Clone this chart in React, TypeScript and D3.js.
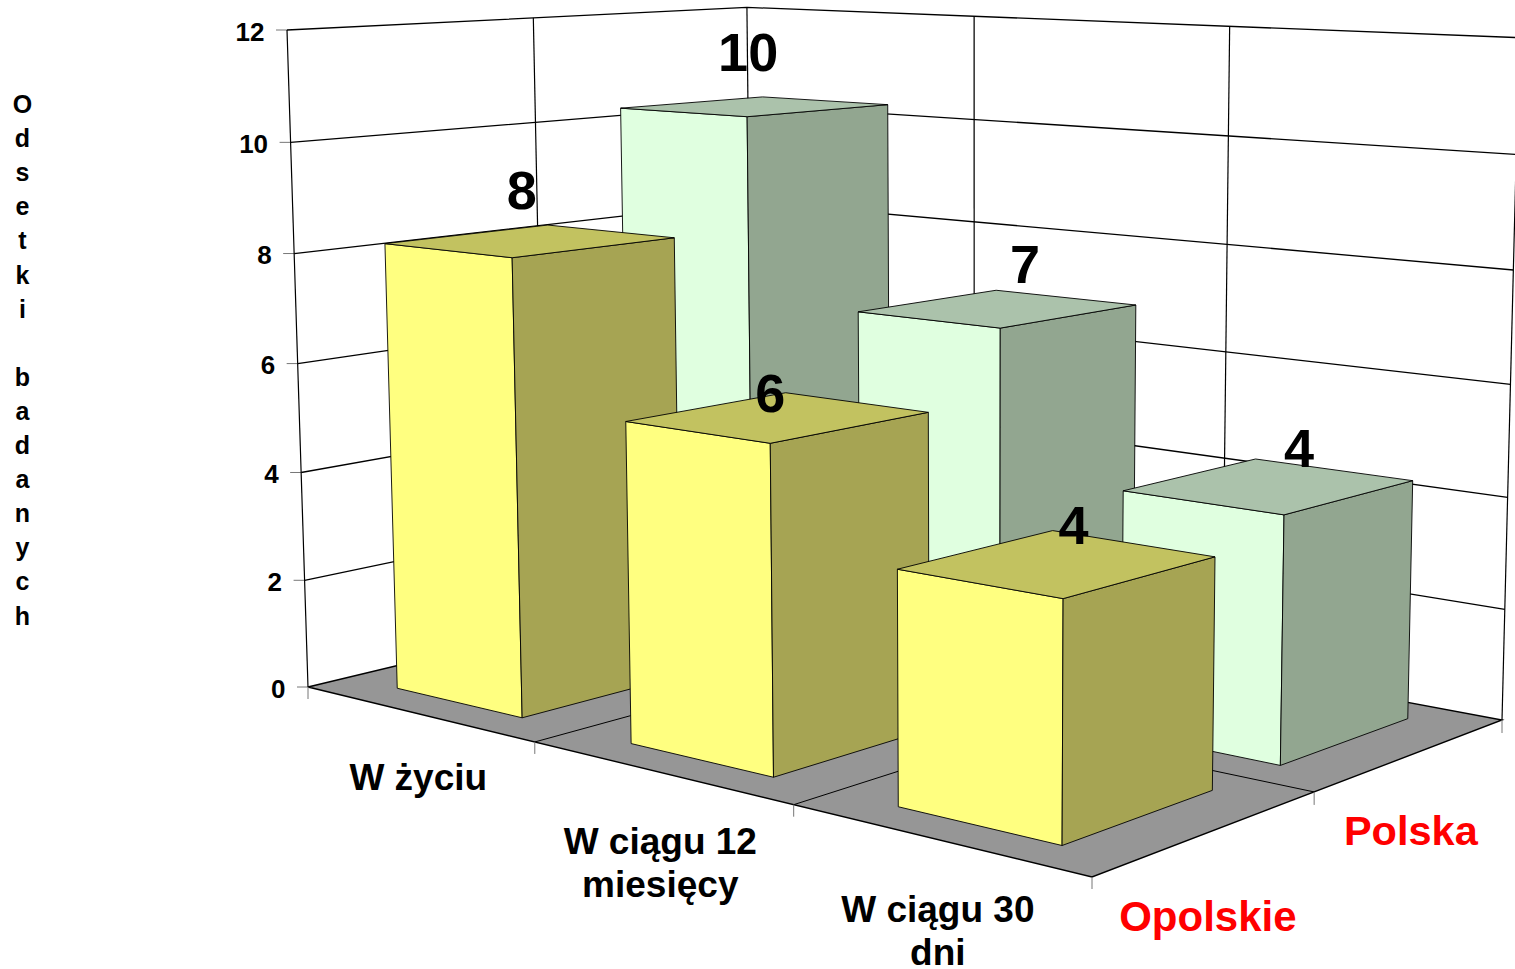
import React from "react";
import * as d3 from "d3";

const categories = ["W życiu", "W ciągu 12|miesięcy", "W ciągu 30|dni"];
const seriesNames = ["Opolskie", "Polska"];
const opolskie = [8.19, 5.61, 3.89];
const polska = [10.28, 6.86, 4.28];
const valueTicks = [0, 2, 4, 6, 8, 10, 12];
const axisTitle = "Odsetki badanych";

// camera: floor corners and vertical vanishing point
const A = [308, 687], B = [1092, 877], C = [1502, 720], D = [753, 580], Atop = [287, 30], vanishX = 976;
const den = (B[0] - C[0]) * (D[1] - C[1]) - (D[0] - C[0]) * (B[1] - C[1]);
const sx = A[0] - B[0] + C[0] - D[0], sy = A[1] - B[1] + C[1] - D[1];
const g = (sx * (D[1] - C[1]) - (D[0] - C[0]) * sy) / den;
const h = ((B[0] - C[0]) * sy - sx * (B[1] - C[1])) / den;
const r = (Atop[0] - A[0]) / (vanishX - Atop[0]);
const p = Atop[0] * (1 + r) - A[0];
const q = Atop[1] * (1 + r) - A[1];
function project(x: number, y: number, z: number): [number, number] {
  const w = 1 + g * x + h * y + r * z;
  return [
    (A[0] + (B[0] * (1 + g) - A[0]) * x + (D[0] * (1 + h) - A[0]) * y + p * z) / w,
    (A[1] + (B[1] * (1 + g) - A[1]) * x + (D[1] * (1 + h) - A[1]) * y + q * z) / w,
  ];
}

const zScale = d3.scaleLinear().domain([0, 12]).range([0, 1]);
const xScale = d3.scaleBand<number>().domain([0, 1, 2]).range([0, 1]).paddingInner(0.45).paddingOuter(0.22);
const yScale = d3.scaleBand<number>().domain([0, 1]).range([0, 1]).paddingInner(0.33).paddingOuter(0.165);
const path = d3.line<[number, number]>();
const poly = (pts: [number, number][]) => path(pts)! + "Z";
const seg = (a: [number, number], b: [number, number]) => path([a, b])!;

const palette = [
  { front: "#FFFF80", side: "#A6A453", top: "#C2C260" },
  { front: "#E0FFE0", side: "#92A690", top: "#ABC2AB" },
];
const labelNudge = [
  [[-9, -32], [-8, -5], [16, -19]],
  [[-7, -35], [27, -25], [30, -19]],
];
const FONT = "'Liberation Sans', Arial, sans-serif";
const wallX = [1 / 3, 2 / 3];
const wallY = [0.5];

export default function App() {
  const bars: { s: number; c: number; v: number }[] = [];
  [polska, opolskie].forEach((vals, k) => vals.forEach((v, c) => bars.push({ s: 1 - k, c, v })));
  const titleChars = Array.from(axisTitle);
  return (
    <svg width={1515} height={969} style={{ position: "absolute", left: 0, top: 0, display: "block", background: "#fff" }}>
      {/* floor */}
      <path d={poly([project(0, 0, 0), project(1, 0, 0), project(1, 1, 0), project(0, 1, 0)])} fill="#969696" stroke="#000" strokeWidth={1.4} />
      {wallX.map((x) => <path key={"fx" + x} d={seg(project(x, 0, 0), project(x, 1, 0))} stroke="#000" strokeWidth={1} fill="none" />)}
      {wallY.map((y) => <path key={"fy" + y} d={seg(project(0, y, 0), project(1, y, 0))} stroke="#000" strokeWidth={1} fill="none" />)}
      {/* outer ticks */}
      {[0, 1 / 3, 2 / 3, 1].map((x) => { const a = project(x, 0, 0); return <path key={"tx" + x} d={seg(a, [a[0], a[1] + 12])} stroke="#777" fill="none" />; })}
      {[0.5, 1].map((y) => { const a = project(1, y, 0); return <path key={"ty" + y} d={seg(a, [a[0], a[1] + 13])} stroke="#777" fill="none" />; })}
      {/* walls */}
      {valueTicks.map((t) => {
        const z = zScale(t);
        const a = project(0, 0, z), m = project(0, 1, z), e = project(1, 1, z);
        return (
          <g key={t}>
            {t > 0 && <path d={path([a, m, e])!} fill="none" stroke="#000" strokeWidth={1.3} />}
            <path d={seg(a, [a[0] - 11, a[1]])} stroke="#777" fill="none" />
            <text x={a[0] - 22.5} y={a[1] + 10.5} textAnchor="end" fontFamily={FONT} fontWeight="bold" fontSize={26} fill="#000">{t}</text>
          </g>
        );
      })}
      {[0, 0.5, 1].map((y) => <path key={"vy" + y} d={seg(project(0, y, 0), project(0, y, 1))} stroke="#000" strokeWidth={1.2} fill="none" />)}
      {[1 / 3, 2 / 3, 1].map((x) => <path key={"vx" + x} d={seg(project(x, 1, 0), project(x, 1, 1))} stroke="#000" strokeWidth={1.2} fill="none" />)}
      {/* bars */}
      {bars.map(({ s, c, v }) => {
        const x0 = xScale(c)!, x1 = x0 + xScale.bandwidth();
        const y0 = yScale(s)!, y1 = y0 + yScale.bandwidth();
        const z = zScale(v);
        const col = palette[s];
        return (
          <g key={s + "-" + c} stroke="#000" strokeWidth={0.9} strokeLinejoin="round">
            <path d={poly([project(x0, y0, 0), project(x1, y0, 0), project(x1, y0, z), project(x0, y0, z)])} fill={col.front} />
            <path d={poly([project(x1, y0, 0), project(x1, y1, 0), project(x1, y1, z), project(x1, y0, z)])} fill={col.side} />
            <path d={poly([project(x0, y0, z), project(x1, y0, z), project(x1, y1, z), project(x0, y1, z)])} fill={col.top} />
          </g>
        );
      })}
      {/* value labels */}
      {bars.map(({ s, c, v }) => {
        const m = project(xScale(c)! + xScale.bandwidth() / 2, yScale(s)! + yScale.bandwidth() / 2, zScale(v));
        const n = labelNudge[s][c];
        return <text key={"l" + s + c} x={m[0] + n[0]} y={m[1] + n[1]} textAnchor="middle" fontFamily={FONT} fontWeight="bold" fontSize={54} fill="#000">{d3.format(".0f")(v)}</text>;
      })}
      {/* category labels */}
      {categories.map((cat, i) => {
        const m = project((i + 0.5) / 3, 0, 0);
        const lines = cat.split("|");
        const y0 = m[1] + (lines.length > 1 ? 82 : 76);
        return lines.map((ln, j) => (
          <text key={cat + j} x={m[0] + 0.5} y={y0 + j * 43} textAnchor="middle" fontFamily={FONT} fontWeight="bold" fontSize={37} fill="#000">{ln}</text>
        ));
      })}
      {/* series labels */}
      {seriesNames.map((name, i) => {
        const m = project(1, (i + 0.5) / 2, 0);
        return <text key={name} x={m[0] + (i === 0 ? 0 : -1)} y={m[1] + (i === 0 ? 98 : 90)} textAnchor="middle" fontFamily={FONT} fontWeight="bold" fontSize={i === 0 ? 42 : 41.5} fill="#FF0000">{name}</text>;
      })}
      {/* stacked axis title */}
      {titleChars.map((ch, i) => (
        <text key={i} x={22.5} y={113 + i * 34.1} textAnchor="middle" fontFamily={FONT} fontWeight="bold" fontSize={25} fill="#000">{ch}</text>
      ))}
    </svg>
  );
}
